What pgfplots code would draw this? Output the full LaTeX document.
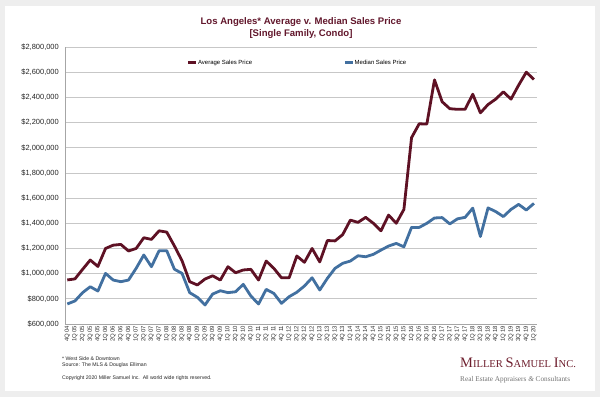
\documentclass[border=0pt]{standalone}
\usepackage{pgfplots}
\pgfplotsset{compat=1.18}
\usepackage{fontspec}
\setmainfont{Liberation Sans}
\newfontfamily\serifl{Liberation Serif}
\definecolor{avgc}{RGB}{94,17,36}
\definecolor{medc}{RGB}{66,112,160}
\definecolor{titc}{RGB}{98,23,44}
\definecolor{logoc}{RGB}{110,30,45}
\definecolor{frame}{RGB}{238,238,238}
\pgfplotstableread{
i avg med
0 950000 759000
1 958000 783000
2 1034000 849000
3 1108000 896000
4 1057000 862000
5 1200000 1002000
6 1226000 949000
7 1232000 936000
8 1180000 949000
9 1200000 1042000
10 1285000 1148000
11 1272000 1055000
12 1340000 1182000
13 1330000 1182000
14 1220000 1035000
15 1102000 1002000
16 936000 849000
17 910000 812000
18 957000 751000
19 983000 838000
20 949000 864000
21 1055000 849000
22 1007000 856000
23 1029000 915000
24 1034000 822000
25 949000 759000
26 1100000 875000
27 1042000 843000
28 967000 764000
29 967000 817000
30 1140000 852000
31 1090000 902000
32 1200000 967000
33 1093000 870000
34 1263000 963000
35 1260000 1042000
36 1310000 1082000
37 1425000 1100000
38 1407000 1142000
39 1447000 1134000
40 1400000 1153000
41 1340000 1187000
42 1465000 1219000
43 1400000 1240000
44 1510000 1213000
45 2080000 1367000
46 2190000 1367000
47 2188000 1400000
48 2539000 1442000
49 2365000 1445000
50 2310000 1395000
51 2305000 1435000
52 2305000 1447000
53 2425000 1520000
54 2277000 1295000
55 2343000 1522000
56 2386000 1493000
57 2444000 1453000
58 2386000 1510000
59 2497000 1550000
60 2600000 1505000
61 2542000 1558000
}\datatab
\begin{document}
\begin{tikzpicture}
\useasboundingbox (0,0) rectangle (600bp,397bp);
\fill[frame] (0,0) rectangle (600bp,397bp);
\fill[white] (5bp,6bp) rectangle (595bp,391bp);
\node[font=\bfseries\fontsize{9.6}{12}\selectfont, text=titc, align=center] at (301bp,369bp)
  {Los Angeles* Average v. Median Sales Price\\{}{[}Single Family, Condo{]}};
\begin{axis}[
  at={(65bp,73bp)}, anchor=south west,
  scale only axis, width=472bp, height=277bp,
  xmin=-0.3, xmax=61.4, ymin=600000, ymax=2800000,
  ytick={600000,800000,1000000,1200000,1400000,1600000,1800000,2000000,2200000,2400000,2600000,2800000},
  yticklabels={\$600{,}000,\$800{,}000,\$1{,}000{,}000,\$1{,}200{,}000,\$1{,}400{,}000,\$1{,}600{,}000,\$1{,}800{,}000,\$2{,}000{,}000,\$2{,}200{,}000,\$2{,}400{,}000,\$2{,}600{,}000,\$2{,}800{,}000},
  xtick={0,...,61},
  xticklabels={4Q 04,1Q 05,2Q 05,3Q 05,4Q 05,1Q 06,2Q 06,3Q 06,4Q 06,1Q 07,2Q 07,3Q 07,4Q 07,1Q 08,2Q 08,3Q 08,4Q 08,1Q 09,2Q 09,3Q 09,4Q 09,1Q 10,2Q 10,3Q 10,4Q 10,1Q 11,2Q 11,3Q 11,4Q 11,1Q 12,2Q 12,3Q 12,4Q 12,1Q 13,2Q 13,3Q 13,4Q 13,1Q 14,2Q 14,3Q 14,4Q 14,1Q 15,2Q 15,3Q 15,4Q 15,1Q 16,2Q 16,3Q 16,4Q 16,1Q 17,2Q 17,3Q 17,4Q 17,1Q 18,2Q 18,3Q 18,4Q 18,1Q 19,2Q 19,3Q 19,4Q 19,1Q 20},
  x tick label style={rotate=90, anchor=east, font=\fontsize{6}{6}\selectfont, inner sep=1.5bp, text=black!80},
  y tick label style={font=\fontsize{7.5}{7.5}\selectfont, text=black!85, inner sep=1bp, xshift=-5bp},
  ymajorgrids, grid style={color=black!22, line width=0.7bp},
  axis x line*=bottom, axis y line*=left,
  axis line style={color=black!35, line width=0.8bp},
  major tick style={draw=none},
  scaled y ticks=false,
  legend columns=2,
  legend style={draw=none, fill=none, at={(0.258,0.943)}, anchor=west,
    font=\fontsize{6}{6}\selectfont, inner sep=0pt,
    nodes={inner sep=0.5bp},
    /tikz/every odd column/.append style={column sep=0bp},
    /tikz/every even column/.append style={column sep=91bp}},
  legend cell align=left,
  legend image code/.code={\draw[line width=2.6bp] (0bp,0bp) -- (8bp,0bp);},
]
\addplot[avgc, line width=2.8bp, line join=round] table[x=i, y=avg] {\datatab};
\addlegendentry{Average Sales Price}
\addplot[medc, line width=2.8bp, line join=round] table[x=i, y=med] {\datatab};
\addlegendentry{Median Sales Price}
\end{axis}
\begin{scope}[every node/.style={anchor=base west, inner sep=0pt, font=\fontsize{5.2}{5.2}\selectfont, text=black!85}]
\node at (62bp,36.5bp) {* West Side \& Downtown};
\node at (62bp,30.5bp) {Source: The MLS \& Douglas Elliman};
\node at (62bp,18bp) {Copyright 2020 Miller Samuel Inc.\ \ All world wide rights reserved.};
\end{scope}
\node[anchor=base west, inner sep=0pt, text=logoc] at (460bp,30bp)
  {\serifl\fontsize{14.5}{14.5}\selectfont M\fontsize{10.6}{10.6}\selectfont ILLER \fontsize{14.5}{14.5}\selectfont S\fontsize{10.6}{10.6}\selectfont AMUEL \fontsize{14.5}{14.5}\selectfont I\fontsize{10.6}{10.6}\selectfont NC.};
\node[anchor=base west, inner sep=0pt, text=black!55] at (460bp,16bp)
  {\serifl\fontsize{7.3}{7.3}\selectfont Real Estate Appraisers \textit{\&} Consultants};
\end{tikzpicture}
\end{document}
